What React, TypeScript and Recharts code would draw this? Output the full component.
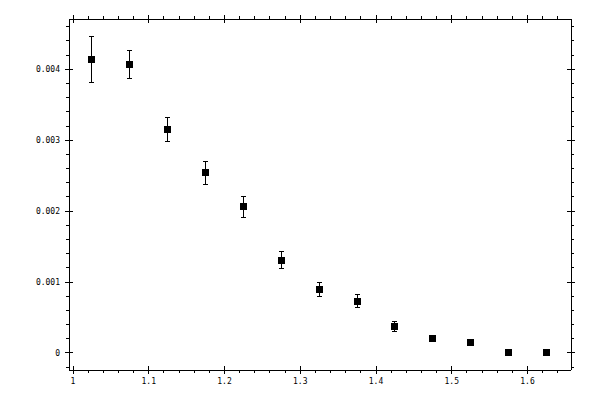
import { ScatterChart, Scatter, XAxis, YAxis, ErrorBar } from 'recharts';

// bin centres and measured values (with symmetric errors)
const binCenters = [1.025, 1.075, 1.125, 1.175, 1.225, 1.275, 1.325, 1.375, 1.425, 1.475, 1.525, 1.575, 1.625];
const values = [0.00414, 0.00407, 0.00315, 0.00254, 0.00206, 0.00131, 0.00089, 0.00073, 0.00038, 0.0002, 0.00015, 0, 0];
const errors = [0.00033, 0.0002, 0.00017, 0.00016, 0.00015, 0.00012, 0.0001, 0.00009, 0.00007, 0.00003, 0.00002, 0, 0];

// axis ticks (minor every 0.02 / 0.0002, labelled ones listed separately)
const xTicks = [
  1.0, 1.02, 1.04, 1.06, 1.08, 1.1, 1.12, 1.14, 1.16, 1.18, 1.2, 1.22, 1.24, 1.26, 1.28, 1.3, 1.32,
  1.34, 1.36, 1.38, 1.4, 1.42, 1.44, 1.46, 1.48, 1.5, 1.52, 1.54, 1.56, 1.58, 1.6, 1.62, 1.64,
];
const xMajor = [1, 1.1, 1.2, 1.3, 1.4, 1.5, 1.6];
const xLabels = ['1', '1.1', '1.2', '1.3', '1.4', '1.5', '1.6'];

const yTicks = [
  -0.0002, 0, 0.0002, 0.0004, 0.0006, 0.0008, 0.001, 0.0012, 0.0014, 0.0016, 0.0018, 0.002, 0.0022,
  0.0024, 0.0026, 0.0028, 0.003, 0.0032, 0.0034, 0.0036, 0.0038, 0.004, 0.0042, 0.0044, 0.0046,
];
const yMajor = [0, 0.001, 0.002, 0.003, 0.004];
const yLabels = ['0', '0.001', '0.002', '0.003', '0.004'];

const data = binCenters.map((x, i) => ({ x, y: values[i], err: errors[i] }));

const FONT = '"DejaVu Sans Mono", monospace';
const MAJ_IN = 4;
const MAJ_OUT = 4;
const MIN_OUT = 3;

const findMajor = (list: number[], v: number) => list.findIndex((m) => Math.abs(m - v) < 1e-9);

function BottomTick({ x, y, payload }: any) {
  const idx = findMajor(xMajor, payload.value);
  const major = idx >= 0;
  return (
    <g>
      <line x1={x} x2={x} y1={major ? y - MAJ_IN : y} y2={y + (major ? MAJ_OUT : MIN_OUT)} stroke="#000" />
      {major && (
        <text x={x} y={y + 13.5} textAnchor="middle" fontSize={8} fontFamily={FONT} fill="#000">
          {xLabels[idx]}
        </text>
      )}
    </g>
  );
}

function TopTick({ x, y, payload }: any) {
  const major = findMajor(xMajor, payload.value) >= 0;
  return <line x1={x} x2={x} y1={major ? y + MAJ_IN : y} y2={y - (major ? MAJ_OUT : MIN_OUT)} stroke="#000" />;
}

function LeftTick({ x, y, payload }: any) {
  const idx = findMajor(yMajor, payload.value);
  const major = idx >= 0;
  return (
    <g>
      <line x1={major ? x + MAJ_IN : x} x2={x - (major ? MAJ_OUT : MIN_OUT)} y1={y} y2={y} stroke="#000" />
      {major && (
        <text x={x - 9} y={y + 2.8} textAnchor="end" fontSize={8} fontFamily={FONT} fill="#000">
          {yLabels[idx]}
        </text>
      )}
    </g>
  );
}

function RightTick({ x, y, payload }: any) {
  const major = findMajor(yMajor, payload.value) >= 0;
  return <line x1={major ? x - MAJ_IN : x} x2={x + (major ? MAJ_OUT : MIN_OUT)} y1={y} y2={y} stroke="#000" />;
}

function SquareMarker({ cx, cy }: any) {
  return <rect x={cx - 3.5} y={cy - 3.5} width={7} height={7} fill="#000" />;
}

const X_DOMAIN: [number, number] = [0.9947, 1.6574];
const Y_DOMAIN: [number, number] = [-0.00024, 0.00471];

export default function App() {
  return (
    <div style={{ position: 'absolute', left: 0, top: 0, width: 600, height: 400, background: '#fff' }}>
      <ScatterChart
        width={600}
        height={400}
        margin={{ top: 0, right: 0, bottom: 0, left: 0 }}
        style={{ shapeRendering: 'crispEdges' }}
      >
        <XAxis
          xAxisId="b"
          type="number"
          dataKey="x"
          orientation="bottom"
          domain={X_DOMAIN}
          ticks={xTicks}
          interval={0}
          height={30}
          tickSize={0}
          tickMargin={0}
          tickLine={false}
          axisLine={{ stroke: '#000' }}
          tick={BottomTick}
          allowDataOverflow
        />
        <XAxis
          xAxisId="t"
          type="number"
          dataKey="x"
          orientation="top"
          domain={X_DOMAIN}
          ticks={xTicks}
          interval={0}
          height={19}
          tickSize={0}
          tickMargin={0}
          tickLine={false}
          axisLine={{ stroke: '#000' }}
          tick={TopTick}
          allowDataOverflow
        />
        <YAxis
          yAxisId="l"
          type="number"
          dataKey="y"
          orientation="left"
          domain={Y_DOMAIN}
          ticks={yTicks}
          interval={0}
          width={69}
          tickSize={0}
          tickMargin={0}
          tickLine={false}
          axisLine={{ stroke: '#000' }}
          tick={LeftTick}
          allowDataOverflow
        />
        <YAxis
          yAxisId="r"
          type="number"
          dataKey="y"
          orientation="right"
          domain={Y_DOMAIN}
          ticks={yTicks}
          interval={0}
          width={29}
          tickSize={0}
          tickMargin={0}
          tickLine={false}
          axisLine={{ stroke: '#000' }}
          tick={RightTick}
          allowDataOverflow
        />
        <Scatter data={data} xAxisId="b" yAxisId="l" shape={SquareMarker} isAnimationActive={false}>
          <ErrorBar dataKey="err" direction="y" width={2.5} stroke="#000" strokeWidth={1} isAnimationActive={false} />
        </Scatter>
      </ScatterChart>
    </div>
  );
}
